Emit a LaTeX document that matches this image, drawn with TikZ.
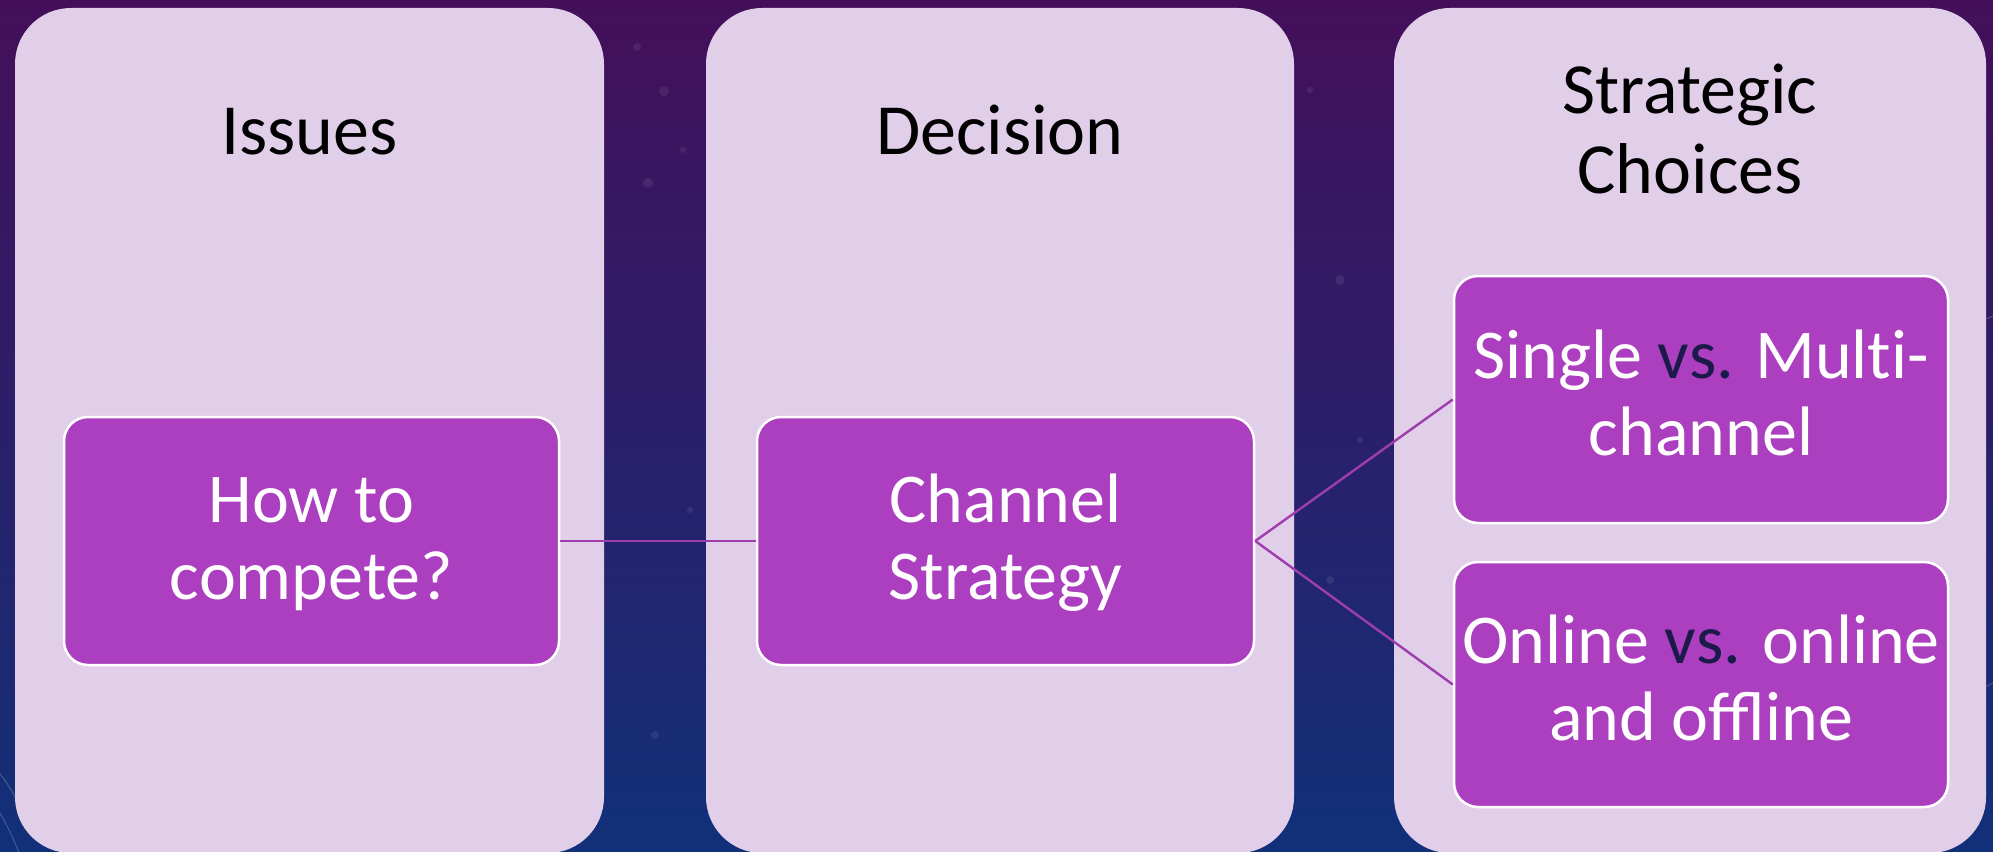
\documentclass[tikz,border=0pt]{standalone}
\usepackage{fontspec}
\setmainfont{Carlito}
\definecolor{bgtop}{HTML}{440F5A}
\definecolor{bgmid}{HTML}{2E1C6C}
\definecolor{bgbot}{HTML}{113079}
\definecolor{colfill}{HTML}{E1CEE9}
\definecolor{boxfill}{HTML}{AC3FC0}
\definecolor{linkcol}{HTML}{9E3DAE}
\definecolor{vscol}{HTML}{1B1A4A}
\newcommand{\vsword}{\textcolor{vscol}{vs.}}
\newcommand{\twolines}[2]{\begin{tabular}[t]{@{}c@{}}#1\\#2\end{tabular}}
\tikzset{
  column/.style={draw=none, fill=colfill, rounded corners=56pt, inner sep=0pt,
    minimum height=845pt},
  titletext/.style={anchor=base, inner sep=0pt, text=black,
    font=\fontsize{72}{80}\selectfont},
  itembox/.style={draw=white, line width=2.5pt, fill=boxfill, rounded corners=24pt,
    inner sep=0pt},
  itemtext/.style={anchor=base, inner sep=0pt, text=white,
    font=\fontsize{70}{77}\selectfont},
  link/.style={draw=linkcol, line width=2.4pt},
  star/.style={fill=white, opacity=0.08}
}
\begin{document}
\begin{tikzpicture}[x=1pt,y=-1pt]
  \useasboundingbox (0,0) rectangle (1993,851);
  % night-sky backdrop
  \shade[top color=bgtop, middle color=bgmid, bottom color=bgbot] (0,0) rectangle (1993,851);
  \begin{scope}[draw=white, line width=1.2pt, opacity=0.18]
    \draw (-40,770) .. controls (0,800) and (10,830) .. (30,880);
    \draw (-40,740) .. controls (-5,760) and (15,790) .. (25,820);
    \draw (1960,330) .. controls (1980,320) and (2000,315) .. (2030,300);
    \draw (1960,700) .. controls (1980,690) and (2000,680) .. (2030,660);
  \end{scope}
  \fill[star] (637,47) circle (4); \fill[star] (664,91) circle (5);
  \fill[star] (648,183) circle (5); \fill[star] (683,150) circle (3);
  \fill[star] (1340,280) circle (5); \fill[star] (1310,90) circle (3);
  \fill[star] (1330,580) circle (4); \fill[star] (655,735) circle (4);
  \fill[star] (690,510) circle (3); \fill[star] (1360,440) circle (3);

  % three columns
  \node[column, minimum width=589pt] (colA) at (309.5,430.5) {};
  \node[column, minimum width=588pt] (colB) at (1000,430.5) {};
  \node[column, minimum width=592pt] (colC) at (1690,430.5) {};

  % column headings
  \node[titletext] (tA) at (309.5,154) {Issues};
  \node[titletext] (tB) at (1000,154) {Decision};
  \node[titletext] (tC) at (1690,113) {\twolines{Strategic}{Choices}};

  % item boxes
  \node[itembox, minimum width=495pt, minimum height=248pt] (issue) at (311.5,541) {};
  \node[itembox, minimum width=497pt, minimum height=248pt] (decision) at (1005.5,541) {};
  \node[itembox, minimum width=494pt, minimum height=247pt] (choiceA) at (1701,399.5) {};
  \node[itembox, minimum width=494pt, minimum height=245pt] (choiceB) at (1701,684.5) {};

  % item labels
  \node[itemtext] (lIssue) at (311.5,522) {\twolines{How to}{compete?}};
  \node[itemtext] (lDecision) at (1005.5,522) {\twolines{Channel}{Strategy}};
  \node[itemtext] (lChoiceA) at (1701,378) {\twolines{Single \vsword{} Mult\kern0pt i-}{channel}};
  \node[itemtext] (lChoiceB) at (1701,663) {\twolines{Online \vsword{} online}{and offline}};

  % connectors
  \draw[link] (issue.east) -- (decision.west);
  \draw[link] (decision.east) -- (choiceA.west);
  \draw[link] (decision.east) -- (choiceB.west);
\end{tikzpicture}
\end{document}
